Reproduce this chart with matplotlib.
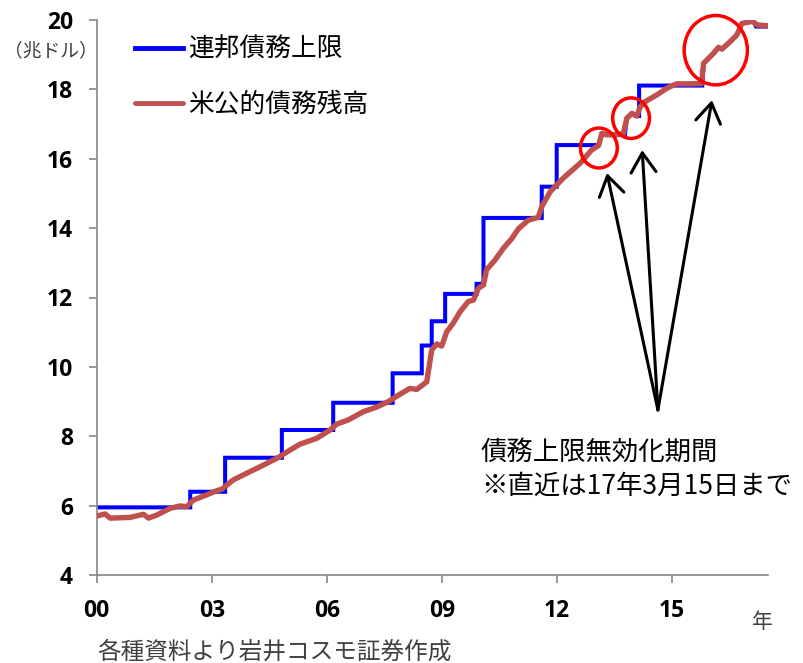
import matplotlib
matplotlib.use("Agg")
import matplotlib.pyplot as plt
from matplotlib.patches import Ellipse

plt.rcParams['font.family'] = ['Noto Sans CJK JP', 'DejaVu Sans']

# ---- data (years since 2000, trillion USD) ----
debt_years = [0.00, 0.22, 0.35, 0.87, 1.22, 1.35, 1.57, 1.91, 2.17, 2.35, 2.52, 2.87, 3.13,
              3.26, 3.56, 4.00, 4.35, 4.74, 5.04, 5.30, 5.74, 6.09, 6.26, 6.56, 6.96, 7.30,
              7.61, 7.91, 8.17, 8.35, 8.61, 8.74, 8.87, 9.00, 9.13, 9.30, 9.48, 9.69, 9.83,
              9.96, 10.09, 10.17, 10.39, 10.61, 10.83, 11.00, 11.26, 11.52, 11.61, 11.83,
              12.17, 12.61, 12.91, 13.09, 13.18, 13.31, 13.57, 13.74, 13.83, 13.96, 14.09,
              14.18, 14.30, 14.61, 14.87, 15.00, 15.13, 15.48, 15.78, 15.83, 16.09, 16.22,
              16.31, 16.52, 16.70, 16.83, 17.04, 17.13, 17.22, 17.52]
debt_values = [5.70, 5.76, 5.64, 5.66, 5.75, 5.64, 5.73, 5.92, 5.99, 5.97, 6.16, 6.31, 6.43,
               6.47, 6.74, 6.98, 7.17, 7.39, 7.60, 7.77, 7.94, 8.18, 8.35, 8.47, 8.71, 8.84,
               9.00, 9.21, 9.38, 9.35, 9.57, 10.49, 10.66, 10.60, 11.01, 11.26, 11.59, 11.88, 11.93,
               12.27, 12.36, 12.80, 13.08, 13.42, 13.70, 13.98, 14.23, 14.31, 14.62, 15.05,
               15.44, 15.87, 16.25, 16.38, 16.73, 16.69, 16.69, 16.73, 17.17, 17.31, 17.23,
               17.50, 17.64, 17.84, 18.03, 18.10, 18.16, 18.16, 18.17, 18.75, 19.04, 19.21,
               19.16, 19.37, 19.57, 19.90, 19.95, 19.95, 19.86, 19.83]

ceiling_years = [0.00, 2.44, 2.44, 3.35, 3.35, 4.83, 4.83, 6.17, 6.17, 7.72, 7.72, 8.48, 8.48,
                 8.74, 8.74, 9.09, 9.09, 9.91, 9.91, 10.09, 10.09, 11.61, 11.61, 12.00, 12.00,
                 13.10, 13.16, 13.78, 13.83, 13.96, 14.09, 14.15, 14.15, 15.80, 15.83, 16.09,
                 16.22, 16.31, 16.52, 16.70, 16.83, 17.04, 17.13, 17.20, 17.52]
ceiling_values = [5.95, 5.95, 6.40, 6.40, 7.38, 7.38, 8.18, 8.18, 8.965, 8.965, 9.815, 9.815, 10.615,
                  10.615, 11.315, 11.315, 12.104, 12.104, 12.394, 12.394, 14.294, 14.294, 15.194,
                  15.194, 16.394, 16.394, 16.70, 16.70, 17.17, 17.28, 17.23, 17.23, 18.11, 18.11,
                  18.75, 19.04, 19.21, 19.16, 19.37, 19.57, 19.90, 19.95, 19.95, 19.81, 19.81]

x_ticks = [0, 3, 6, 9, 12, 15]
x_labels = ['00', '03', '06', '09', '12', '15']
y_ticks = [4, 6, 8, 10, 12, 14, 16, 18, 20]

labels = ['連邦債務上限', '米公的債務残高']

# ---- figure ----
fig = plt.figure(figsize=(8.04, 6.63), dpi=100)
ax = fig.add_axes([96.7/804, 1-575/663, (768.3-96.7)/804, (575-20)/663])

ax.plot(ceiling_years, ceiling_values, color='#0000FF', lw=2.9, label=labels[0],
        solid_joinstyle='miter', zorder=2)
ax.plot(debt_years, debt_values, color='#C0504D', lw=3.9, label=labels[1],
        solid_joinstyle='round', solid_capstyle='round', zorder=3)

ax.set_xlim(0, 17.52)
ax.set_ylim(4, 20)
ax.set_xticks(x_ticks)
ax.set_xticklabels(x_labels)
ax.set_yticks(y_ticks)
for s in ['top', 'right']:
    ax.spines[s].set_visible(False)
for s in ['left', 'bottom']:
    ax.spines[s].set_color('#868686')
    ax.spines[s].set_linewidth(1.2)
ax.tick_params(axis='both', direction='out', length=6, width=1.2, color='#868686',
               labelsize=16.5, pad=11)
for lab in ax.get_xticklabels() + ax.get_yticklabels():
    lab.set_fontfamily(['Open Sans', 'DejaVu Sans'])
    lab.set_fontweight('bold')

leg = ax.legend(loc='upper left', bbox_to_anchor=(0.057, 0.97), frameon=False,
                fontsize=18.5, handlelength=1.85, handletextpad=0.2, labelspacing=1.13,
                borderpad=0.0, borderaxespad=0.0)
for h in leg.get_lines():
    h.set_linewidth(3.5)

# ---- circles marking suspension periods ----
for (cx, cy, w, h) in [(13.10, 16.31, 0.96, 1.15), (13.94, 17.17, 0.96, 1.17), (16.15, 19.13, 1.65, 2.0)]:
    ax.add_patch(Ellipse((cx, cy), w, h, fill=False, edgecolor='#FF0000', lw=2.5,
                         clip_on=False, zorder=4))

# ---- arrows ----
base = (14.64, 8.76)
for tip in [(13.31, 15.59), (14.23, 16.25), (16.05, 17.69)]:
    ax.annotate('', xy=tip, xytext=base,
                arrowprops=dict(arrowstyle='->,head_length=0.7,head_width=0.45',
                                mutation_scale=20, lw=2.2, color='black',
                                shrinkA=0, shrinkB=0))

ax.text(0.572, 0.245, '債務上限無効化期間\n※直近は17年3月15日まで', transform=ax.transAxes,
        fontsize=19, ha='left', va='top', linespacing=1.3, color='black')

fig.text(4/804, 1-51/663, '（兆ドル）', fontsize=13.5, color='#404040', ha='left', va='center')
fig.text(762/804, 1-622/663, '年', fontsize=15, color='#404040', ha='center', va='center')
fig.text(97/804, 1-652/663, '各種資料より岩井コスモ証券作成', fontsize=17, color='#404040',
         ha='left', va='center')

fig.savefig('out.png', dpi=100)
